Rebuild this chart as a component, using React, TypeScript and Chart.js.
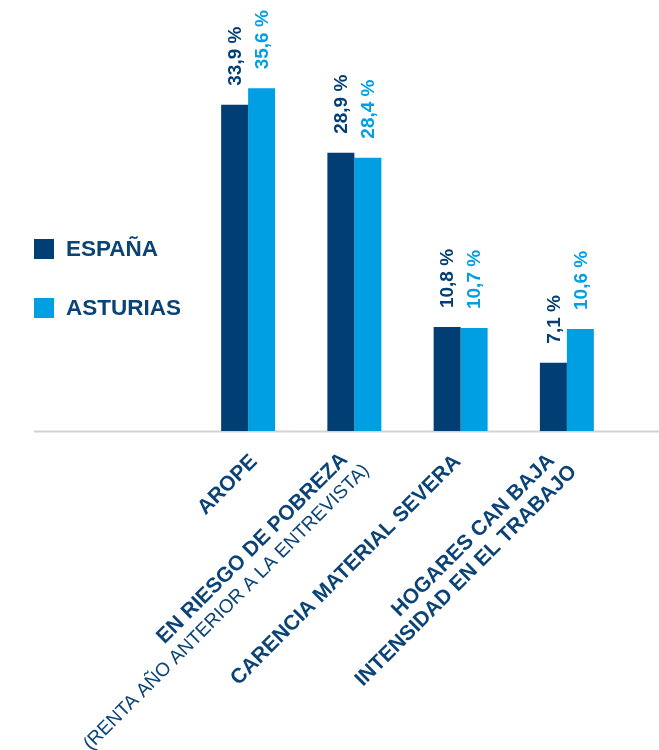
import React, { useEffect, useRef } from "react";
import { Chart, registerables } from "chart.js";

Chart.register(...registerables);

// ---- data ----
const categories: string[][] = [
  ["AROPE"],
  ["EN RIESGO DE POBREZA", "(RENTA AÑO ANTERIOR A LA ENTREVISTA)"],
  ["CARENCIA MATERIAL SEVERA"],
  ["HOGARES CAN BAJA", "INTENSIDAD EN EL TRABAJO"],
];
const espana: number[] = [33.9, 28.9, 10.8, 7.1];
const asturias: number[] = [35.6, 28.4, 10.7, 10.6];
const seriesNames: string[] = ["ESPAÑA", "ASTURIAS"];

// ---- styles ----
const DARK = "#003E74";
const LIGHT = "#009FE3";
const TEXT = "#0B4376";
const FONT = "'Liberation Sans', Arial, sans-serif";

// per-label anchor nudges for rotated category labels (first line), px from tick / baseline
const labelNudges: number[][] = [
  [6, 27.5],
  [-10, 25.5],
  [-3, 27.5],
  [-15.5, 26.5],
];
const secondLineStep = [22, 11];

const fmt = (v: number) => v.toFixed(1).replace(".", ",") + " %";

const customDraw = {
  id: "customDraw",
  beforeDatasetsDraw(chart: any) {
    const ctx = chart.ctx as CanvasRenderingContext2D;
    const y0 = chart.scales.y.getPixelForValue(0);
    ctx.save();
    ctx.strokeStyle = "#d2d2d2";
    ctx.lineWidth = 2;
    ctx.beginPath();
    ctx.moveTo(34, y0 + 0.5);
    ctx.lineTo(chart.width, y0 + 0.5);
    ctx.stroke();
    ctx.restore();
  },
  afterDatasetsDraw(chart: any) {
    const ctx = chart.ctx as CanvasRenderingContext2D;
    const xScale = chart.scales.x;
    const y0 = chart.scales.y.getPixelForValue(0);

    // value labels
    chart.data.datasets.forEach((ds: any, di: number) => {
      const meta = chart.getDatasetMeta(di);
      meta.data.forEach((bar: any, i: number) => {
        ctx.save();
        ctx.translate(bar.x + 1, bar.y - 19);
        ctx.rotate(-Math.PI / 2);
        ctx.font = `bold 19px ${FONT}`;
        ctx.fillStyle = ds.backgroundColor;
        ctx.textAlign = "left";
        ctx.textBaseline = "middle";
        ctx.fillText(fmt(ds.data[i]), 0, 0);
        ctx.restore();
      });
    });

    // category labels (rotated 45°)
    (chart.data.labels as string[][]).forEach((lines, i) => {
      const cx = xScale.getPixelForValue(i);
      const [nx, ny] = labelNudges[i];
      lines.forEach((line, j) => {
        const px = cx + nx + j * secondLineStep[0];
        const py = y0 + ny + j * secondLineStep[1];
        ctx.save();
        ctx.translate(px, py);
        ctx.rotate(-Math.PI / 4);
        const sub = line.startsWith("(");
        ctx.font = sub ? `normal 19px ${FONT}` : `bold 21px ${FONT}`;
        ctx.fillStyle = TEXT;
        ctx.textAlign = "right";
        ctx.textBaseline = "middle";
        ctx.fillText(line, 0, 0);
        ctx.restore();
      });
    });

    // legend
    const colors = [DARK, LIGHT];
    const legendTop = [239, 298];
    seriesNames.forEach((name, k) => {
      ctx.save();
      ctx.fillStyle = colors[k];
      ctx.fillRect(34, legendTop[k], 20, 20);
      ctx.font = `bold 22.5px ${FONT}`;
      ctx.fillStyle = TEXT;
      ctx.textAlign = "left";
      ctx.textBaseline = "alphabetic";
      ctx.fillText(name, 66, legendTop[k] + 17);
      ctx.restore();
    });
  },
};

export default function App() {
  const canvasRef = useRef<HTMLCanvasElement | null>(null);

  useEffect(() => {
    if (!canvasRef.current) return;
    const chart = new Chart(canvasRef.current, {
      type: "bar",
      data: {
        labels: categories as any,
        datasets: [
          {
            label: seriesNames[0],
            data: espana,
            backgroundColor: DARK,
            borderWidth: 0,
            categoryPercentage: 0.508,
            barPercentage: 1,
          },
          {
            label: seriesNames[1],
            data: asturias,
            backgroundColor: LIGHT,
            borderWidth: 0,
            categoryPercentage: 0.508,
            barPercentage: 1,
          },
        ],
      },
      options: {
        responsive: false,
        animation: false,
        devicePixelRatio: 1,
        layout: { padding: { left: 195, right: 39, top: 46, bottom: 319 } },
        plugins: {
          legend: { display: false },
          tooltip: { enabled: false },
          title: { display: false },
        },
        scales: {
          x: { display: false, grid: { display: false } },
          y: { display: false, min: 0, max: 40, grid: { display: false } },
        },
      },
      plugins: [customDraw],
    });
    return () => chart.destroy();
  }, []);

  return (
    <div style={{ position: "absolute", left: 0, top: 0, width: 659, height: 750, background: "#fff" }}>
      <canvas ref={canvasRef} width={659} height={750} style={{ display: "block" }} />
    </div>
  );
}
